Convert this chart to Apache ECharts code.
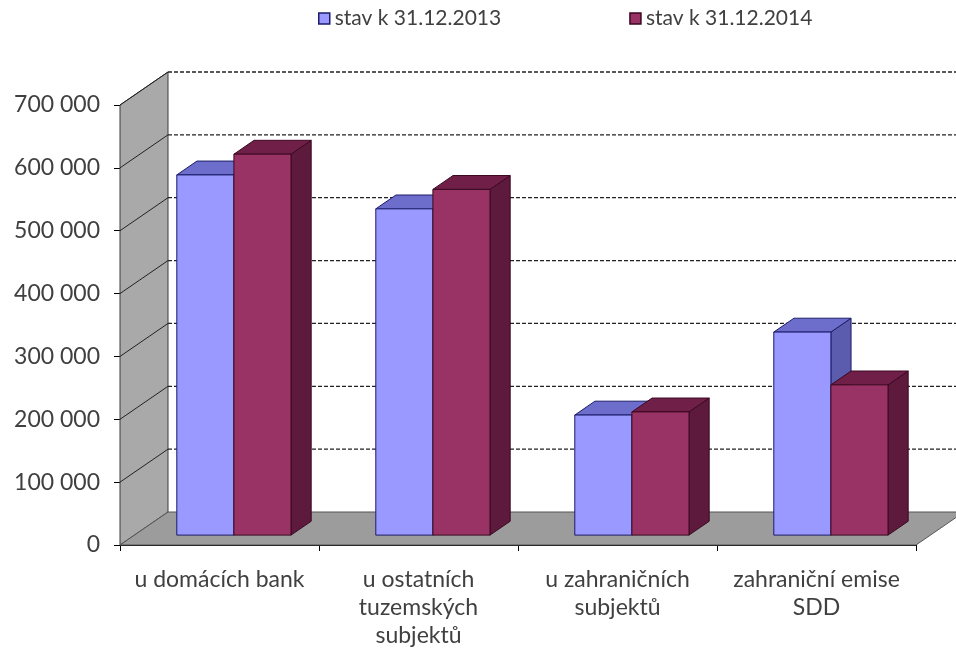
<!DOCTYPE html>
<html>
<head>
<meta charset="utf-8">
<script src="https://cdn.jsdelivr.net/npm/echarts@6/dist/echarts.min.js"></script>
<style>
html,body{margin:0;padding:0;background:#fff;}
#chart{width:956px;height:653px;}
</style>
</head>
<body>
<div id="chart"></div>
<script>
// ---- data ----
const categories = ['u domácích bank', 'u ostatních\ntuzemských\nsubjektů', 'u zahraničních\nsubjektů', 'zahraniční emise\nSDD'];
const seriesNames = ['stav k 31.12.2013', 'stav k 31.12.2014'];
const values2013 = [573000, 519000, 191000, 323000];
const values2014 = [606000, 550000, 196000, 239000];
const yTicks = [0, 100000, 200000, 300000, 400000, 500000, 600000, 700000];

// ---- style constants ----
const DX = 48, DY = -33;          // depth of the 3D box
const BAR_FRONT = 0.30, BAR_DEPTH = 0.42, BAR_W = 0.287;
const FONT = 'Lato, "Open Sans", sans-serif';
const TEXT = '#404040';
const palette = [
  {front:'#9999ff', top:'#6d6dcc', side:'#5c5cae', border:'#1c1c6a'},
  {front:'#993366', top:'#702048', side:'#5e1a3c', border:'#3a0820'}
];

const yMin = yTicks[0], yMax = yTicks[yTicks.length-1];
const fmt = v => String(v).replace(/\B(?=(\d{3})+(?!\d))/g, ' ');

function renderWalls(params, api) {
  const bw = api.size([1, 0])[0];
  const x0 = api.coord([0, yMin])[0] - bw / 2;
  const x1 = api.coord([categories.length - 1, yMin])[0] + bw / 2;
  const yb = api.coord([0, yMin])[1];
  const yt = api.coord([0, yMax])[1];
  const ch = [];
  ch.push({type:'polygon', shape:{points:[[x0,yb],[x0,yt],[x0+DX,yt+DY],[x0+DX,yb+DY]]},
    style:{fill:'#a9a9a9', stroke:'#3a3a3a', lineWidth:1}});
  ch.push({type:'polygon', shape:{points:[[x0,yb],[x1,yb],[x1+DX,yb+DY],[x0+DX,yb+DY]]},
    style:{fill:'#9c9c9c', stroke:'#555', lineWidth:1}});
  yTicks.forEach(v => {
    if (v === yMin) return;
    const y = api.coord([0, v])[1];
    ch.push({type:'line', shape:{x1:x0, y1:y, x2:x0+DX, y2:y+DY}, style:{stroke:'#222', lineWidth:1}});
    ch.push({type:'line', shape:{x1:x0+DX, y1:y+DY, x2:x1+DX+20, y2:y+DY}, style:{stroke:'#222', lineWidth:1.3, lineDash:[4,2]}});
  });
  return {type:'group', children:ch};
}

function makeBar(slot) {
  const c = palette[slot];
  return function (params, api) {
    const ci = api.value(0), v = api.value(1);
    const bw = api.size([1, 0])[0];
    const base = api.coord([ci, yMin]);
    const top = api.coord([ci, v]);
    const w = bw * BAR_W;
    const ox = DX * BAR_FRONT, oy = DY * BAR_FRONT;
    const left = base[0] - w + slot * w + ox;
    const right = left + w;
    const yb = base[1] + oy, yt = top[1] + oy;
    const ddx = DX * BAR_DEPTH, ddy = DY * BAR_DEPTH;
    return {type:'group', children:[
      {type:'polygon', shape:{points:[[right,yt],[right+ddx,yt+ddy],[right+ddx,yb+ddy],[right,yb]]},
        style:{fill:c.side, stroke:c.border, lineWidth:1}},
      {type:'polygon', shape:{points:[[left,yt],[right,yt],[right+ddx,yt+ddy],[left+ddx,yt+ddy]]},
        style:{fill:c.top, stroke:c.border, lineWidth:1}},
      {type:'rect', shape:{x:left, y:yt, width:w, height:yb-yt},
        style:{fill:c.front, stroke:c.border, lineWidth:1}}
    ]};
  };
}

const chart = echarts.init(document.getElementById('chart'), null, {renderer:'canvas'});
chart.setOption({
  animation:false,
  backgroundColor:'#fff',
  legend:{
    top:3, left:313, itemGap:128, itemWidth:11, itemHeight:11, icon:'rect',
    textStyle:{fontFamily:FONT, fontSize:21, color:TEXT},
    data: seriesNames.map((n,i)=>({name:n, itemStyle:{color:palette[i].front, borderColor:palette[i].border, borderWidth:1.5}}))
  },
  grid:{left:120, right:40, top:105, bottom:108, containLabel:false},
  xAxis:{
    type:'category', data:categories, boundaryGap:true,
    axisLine:{lineStyle:{color:'#000', width:1}},
    axisTick:{show:true, length:6, lineStyle:{color:'#000'}},
    axisLabel:{fontFamily:FONT, fontSize:23, color:TEXT, lineHeight:28, margin:21, interval:0}
  },
  yAxis:{
    type:'value', min:yMin, max:yMax, interval:100000,
    axisLine:{show:true, lineStyle:{color:'#000', width:1}},
    axisTick:{show:true, length:6, lineStyle:{color:'#000'}},
    splitLine:{show:false},
    axisLabel:{fontFamily:FONT, fontSize:23, color:TEXT, margin:20, formatter:fmt}
  },
  series:[
    {type:'custom', name:'walls', renderItem:renderWalls, data:[[0, 0]], z:1, silent:true, clip:false},
    {type:'custom', name:seriesNames[0], renderItem:makeBar(0), z:2, clip:false,
      itemStyle:{color:palette[0].front},
      data: values2013.map((v,i)=>[i, v])},
    {type:'custom', name:seriesNames[1], renderItem:makeBar(1), z:3, clip:false,
      itemStyle:{color:palette[1].front},
      data: values2014.map((v,i)=>[i, v])}
  ]
});
</script>
</body>
</html>
